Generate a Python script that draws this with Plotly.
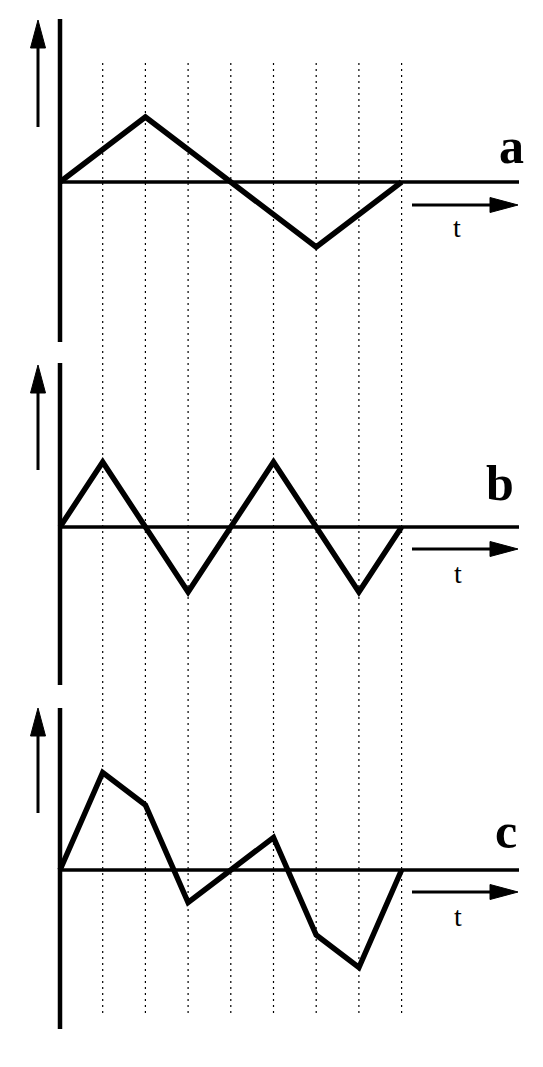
import plotly.graph_objects as go

# ---- data ----
t = [0, 1, 2, 3, 4, 5, 6, 7, 8]
a_vals = [0, 1, 2, 1, 0, -1, -2, -1, 0]
b_vals = [0, 2, 0, -2, 0, 2, 0, -2, 0]
c_vals = [0, 3, 2, -1, 0, 1, -2, -3, 0]
panel_labels = ["a", "b", "c"]
time_label = "t"
grid_steps = [1, 2, 3, 4, 5, 6, 7, 8]

# ---- layout constants (reference-page pixels) ----
PAGE_W, PAGE_H = 543, 1067
OFF = 8                      # default body margin of the html page
W, H = PAGE_W - OFF, PAGE_H - OFF
X0 = 60.0      # pixel x of the vertical axis
UX = 42.7      # pixels per time step
UY = 32.5      # pixels per value unit
BASE_END = 519
GRID_TOP, GRID_BOT = 63, 1017

panels = [
    dict(band=(OFF, 350), base=182, axis=(19, 342), varrow=(20, 127), label=(511, 146), tlab=(457, 227), tarrow=205),
    dict(band=(350, 695), base=527, axis=(363, 685), varrow=(365, 470), label=(500, 483), tlab=(458, 573), tarrow=549),
    dict(band=(695, PAGE_H), base=870, axis=(708, 1029), varrow=(708, 813), label=(506, 831), tlab=(458, 916), tarrow=892),
]
series = [a_vals, b_vals, c_vals]


def xd(px):
    return (px - X0) / UX


def paper_y(px):
    return 1 - (px - OFF) / H


fig = go.Figure()
shapes = []
annotations = []
layout_axes = {}

for i, (p, vals, lab) in enumerate(zip(panels, series, panel_labels)):
    n = "" if i == 0 else str(i + 1)
    xa, ya = "x" + n, "y" + n
    base = p["base"]

    def yd(px, base=base):
        return (base - px) / UY

    top, bot = p["band"]
    layout_axes["xaxis" + n] = dict(domain=[0, 1], range=[xd(OFF), xd(PAGE_W)], visible=False,
                                     anchor=ya, fixedrange=True)
    layout_axes["yaxis" + n] = dict(domain=[max(0, paper_y(bot)), min(1, paper_y(top))],
                                     range=[yd(bot), yd(top)],
                                     visible=False, anchor=xa, fixedrange=True)

    fig.add_trace(go.Scatter(x=t, y=vals, mode="lines", xaxis=xa, yaxis=ya,
                             line=dict(color="black", width=5.5), hoverinfo="skip"))

    # vertical axis line
    shapes.append(dict(type="line", xref=xa, yref=ya, x0=0, x1=0,
                       y0=yd(p["axis"][0]), y1=yd(p["axis"][1]),
                       line=dict(color="black", width=4.5)))
    # baseline
    shapes.append(dict(type="line", xref=xa, yref=ya, x0=0, x1=xd(BASE_END), y0=0, y1=0,
                       line=dict(color="black", width=3.5)))

    # vertical arrow
    vx = xd(38)
    tip, vb = p["varrow"]
    head_len, half_w = 28, 7.5
    shapes.append(dict(type="line", xref=xa, yref=ya, x0=vx, x1=vx,
                       y0=yd(vb), y1=yd(tip + head_len - 2),
                       line=dict(color="black", width=3)))
    shapes.append(dict(type="path", xref=xa, yref=ya,
                       path=f"M {vx},{yd(tip)} L {xd(38 - half_w)},{yd(tip + head_len)} "
                            f"L {xd(38 + half_w)},{yd(tip + head_len)} Z",
                       fillcolor="black", line=dict(color="black", width=1)))

    # horizontal t arrow
    ty = p["tarrow"]
    hx0, hx1 = 412, 518
    shapes.append(dict(type="line", xref=xa, yref=ya, x0=xd(hx0), x1=xd(hx1 - head_len + 2),
                       y0=yd(ty), y1=yd(ty), line=dict(color="black", width=3)))
    shapes.append(dict(type="path", xref=xa, yref=ya,
                       path=f"M {xd(hx1)},{yd(ty)} L {xd(hx1 - head_len)},{yd(ty - half_w)} "
                            f"L {xd(hx1 - head_len)},{yd(ty + half_w)} Z",
                       fillcolor="black", line=dict(color="black", width=1)))

    annotations.append(dict(xref=xa, yref=ya, x=xd(p["label"][0]), y=yd(p["label"][1]),
                            text=lab, showarrow=False, xanchor="center", yanchor="middle",
                            font=dict(family="Liberation Serif", size=50, color="black", weight="bold")))
    annotations.append(dict(xref=xa, yref=ya, x=xd(p["tlab"][0]), y=yd(p["tlab"][1]),
                            text=time_label, showarrow=False, xanchor="center", yanchor="middle",
                            font=dict(family="Liberation Serif", size=28, color="black")))

# dotted grid lines through all panels
for g in grid_steps:
    shapes.append(dict(type="line", xref="x", yref="paper", x0=g, x1=g,
                       y0=paper_y(GRID_TOP), y1=paper_y(GRID_BOT), layer="below",
                       line=dict(color="black", width=1.2, dash="2px,4px")))

fig.update_layout(width=W, height=H, margin=dict(l=0, r=0, t=0, b=0),
                  paper_bgcolor="white", plot_bgcolor="white", showlegend=False,
                  shapes=shapes, annotations=annotations, **layout_axes)

fig.write_html("out.html")
